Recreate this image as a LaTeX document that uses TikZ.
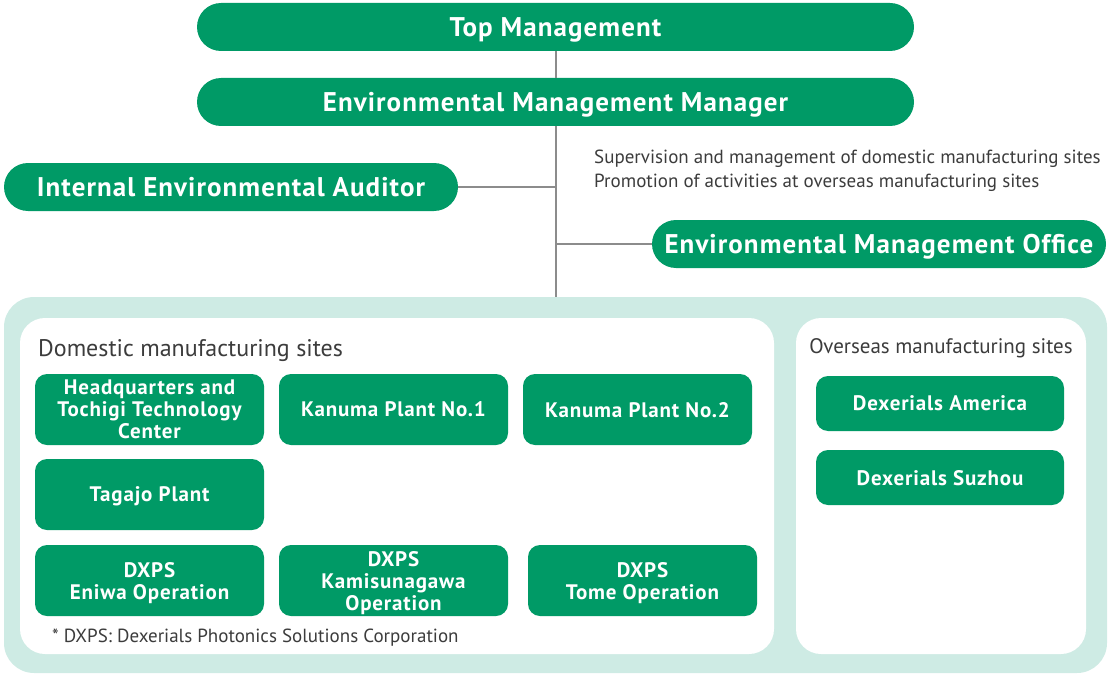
\documentclass[tikz,border=0pt]{standalone}
\usepackage{fontspec}
\setmainfont{PT Sans}
\newfontfamily\boxfont[LetterSpace=4]{PT Sans}
\usetikzlibrary{arrows,shapes}
\definecolor{dxgreen}{RGB}{0,154,102}
\definecolor{dxmint}{RGB}{206,235,228}
\definecolor{dxline}{RGB}{140,140,140}
\definecolor{dxtext}{RGB}{60,60,60}
\tikzstyle{pill}=[rectangle,rounded corners=24pt,fill=dxgreen,text=white,font=\boxfont\bfseries\fontsize{27}{30}\selectfont,minimum height=48pt,inner sep=0pt,text depth=0pt]
\tikzstyle{site}=[rectangle,rounded corners=12pt,fill=dxgreen,text=white,font=\boxfont\bfseries\fontsize{21}{22}\selectfont,minimum width=229pt,minimum height=71pt,align=center,inner sep=0pt,text depth=0pt]
\tikzstyle{oversea site}=[site,minimum width=248pt,minimum height=55pt]
\tikzstyle{panel}=[fill=white,rounded corners=25pt]
\tikzstyle{caption}=[text=dxtext,anchor=west,inner sep=0pt]
\tikzstyle{edge}=[draw,dxline,line width=2pt]
\begin{document}
\begin{tikzpicture}[x=1pt,y=-1pt]
    \useasboundingbox (0,0) rectangle (1110,674);
    % Background panels for the sites
    \fill[dxmint,rounded corners=30pt] (4,297) rectangle (1107,673);
    \fill[panel] (20,318) rectangle (774,654);
    \fill[panel] (796,318) rectangle (1086,654);

    % Management chain
    \node[pill,minimum width=717pt] (top) at (555.5,27) {Top Management};
    \node[pill,minimum width=717pt] (mgr) at (555.5,102) {Environmental Management Manager};
    \node[pill,minimum width=454pt] (aud) at (231,187) {Internal Environmental Auditor};
    \node[pill,minimum width=454pt] (office) at (879,244) {Environmental Management Office};
    \coordinate (sites) at (555.5,297);

    \node[caption,font=\fontsize{19}{24}\selectfont,align=left] (duty) at (594,171)
        {Supervision and management of domestic manufacturing sites\\Promotion of activities at overseas manufacturing sites};

    % Connect the chain
    \path[edge] (top) -- (mgr);
    \path[edge] (mgr) -- (sites);
    \path[edge] (aud.east) -- (aud.east -| sites);
    \path[edge] (office.west) -- (office.west -| sites);

    % Domestic manufacturing sites
    \node[caption,font=\fontsize{24}{28}\selectfont] (dom) at (38,351) {Domestic manufacturing sites};
    \foreach \pos/\name/\label in {{(149.5,409.5)/hq/Headquarters and\\Tochigi Technology\\Center},
        {(393.5,409.5)/kp1/Kanuma Plant No.1}, {(637.5,409.5)/kp2/Kanuma Plant No.2},
        {(149.5,494.5)/taga/Tagajo Plant}, {(149.5,580.5)/eniwa/DXPS\\Eniwa Operation},
        {(393.5,580.5)/kami/DXPS\\Kamisunagawa\\Operation}, {(642.5,580.5)/tome/DXPS\\Tome Operation}}
        \node[site] (\name) at \pos {\label};
    \node[caption,font=\fontsize{19}{22}\selectfont] (note) at (52,638) {* DXPS: Dexerials Photonics Solutions Corporation};

    % Overseas manufacturing sites
    \node[text=dxtext,inner sep=0pt,font=\fontsize{21}{24}\selectfont] (ovs) at (941,348) {Overseas manufacturing sites};
    \foreach \pos/\name/\label in {{(940,403.5)/usa/Dexerials America}, {(940,477.5)/suz/Dexerials Suzhou}}
        \node[oversea site] (\name) at \pos {\label};
\end{tikzpicture}
\end{document}
